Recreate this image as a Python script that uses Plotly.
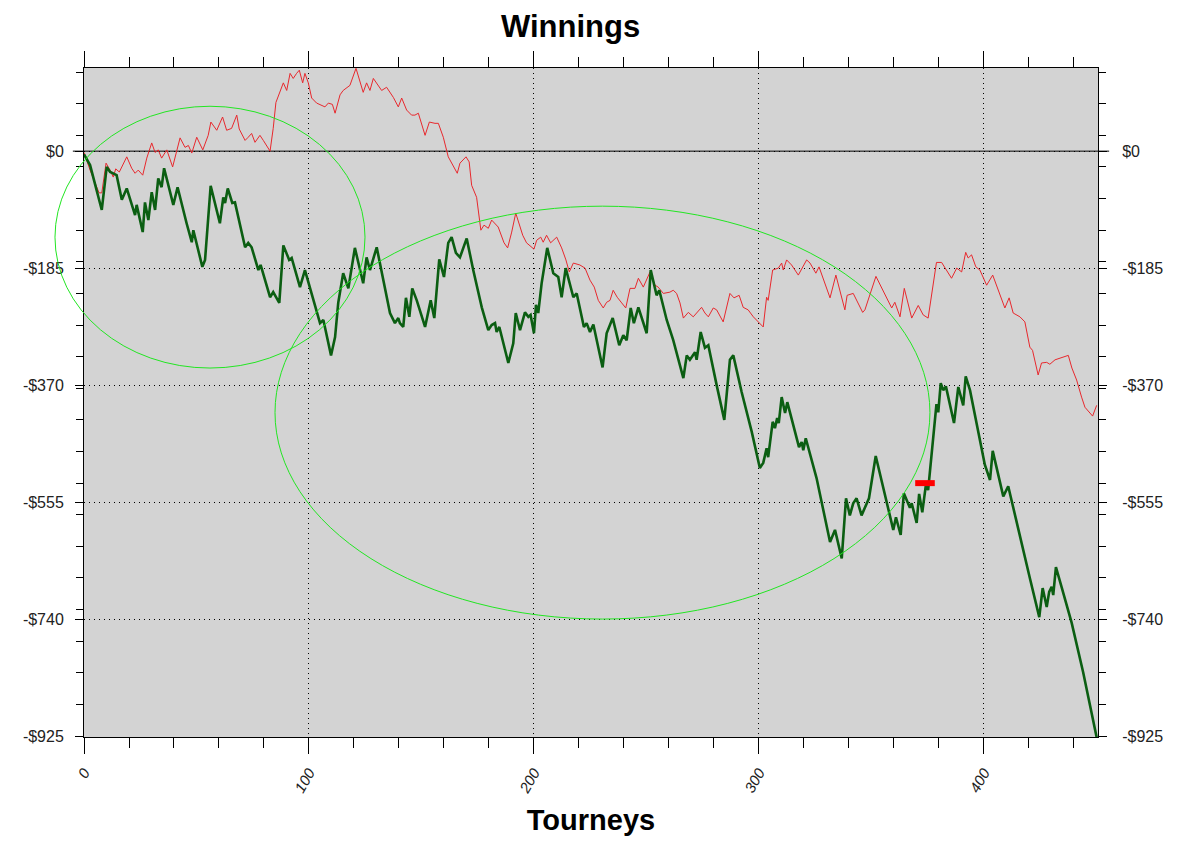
import plotly.graph_objects as go

# winnings per tourney
green_x = [0, 2.7, 7.9, 10.1, 11.6, 14.5, 16.8, 19.0, 22.7, 23.4, 26.1, 27.1, 28.6, 30.1, 31.6, 33.0, 34.5, 35.6,
           39.7, 41.6, 45.6, 47.9, 48.6, 52.6, 53.8, 56.3, 60.4, 61.9, 62.7, 63.9, 65.9, 67.1, 71.6, 73.0, 74.5,
           77.5, 78.5, 82.7, 84.1, 86.8, 88.6, 91.2, 92.3, 96.0, 98.2, 101.2, 104.9, 106.4, 109.8, 111.6, 113.0,
           115.2, 117.5, 120.4, 124.1, 125.6, 127.1, 130.1, 136.0, 138.2, 139.7, 140.4, 141.9, 143.1, 144.6,
           145.9, 147.9, 151.6, 154.1, 155.7, 157.9, 160.0, 161.9, 163.4, 165.3, 167.1, 168.3, 170.1, 173.0,
           176.8, 179.7, 181.2, 182.7, 183.4, 184.6, 188.6, 190.8, 191.9, 193.8, 196.0, 197.5, 198.5, 200.0,
           200.9, 201.9, 203.4, 205.9, 208.6, 210.8, 212.3, 214.1, 216.4, 217.5, 219.0, 222.2, 223.4, 224.9,
           226.4, 230.5, 232.3, 235.0, 237.9, 239.7, 241.2, 243.0, 244.4, 246.4, 250.1, 251.9, 254.5, 255.7,
           259.0, 261.9, 266.4, 267.9, 269.3, 271.6, 272.3, 274.1, 276.0, 277.5, 281.2, 284.6, 287.1, 288.6,
           292.3, 296.8, 300.4, 301.9, 303.4, 304.1, 306.1, 307.1, 308.1, 308.8, 310.1, 311.6, 312.6, 317.8,
           319.0, 319.7, 320.8, 325.6, 331.6, 333.8, 336.8, 338.7, 340.4, 341.9, 343.4, 345.6, 348.9, 351.9,
           359.7, 360.9, 363.0, 364.4, 367.1, 367.9, 370.1, 371.2, 372.6, 374.2, 375.2, 377.2, 378.9, 379.7,
           380.8, 381.9, 383.1, 386.7, 388.6, 390.8, 391.9, 393.8, 400.4, 402.7, 403.9, 408.6, 410.8, 420.4,
           424.6, 426.1, 427.9, 429.0, 430.1, 430.8, 432.0, 434.5, 439.0, 444.1, 450.1]
green_y = [-5, -22, -93, -25, -33, -38, -77, -59, -101, -85, -128, -81, -109, -65, -93, -43, -57, -27,
           -85, -57, -114, -144, -125, -183, -172, -55, -114, -73, -82, -59, -82, -81, -152, -145, -152,
           -188, -180, -231, -223, -240, -149, -172, -169, -215, -188, -225, -272, -267, -323, -294, -240,
           -193, -217, -153, -209, -168, -188, -152, -256, -272, -264, -272, -278, -232, -262,
           -217, -236, -278, -236, -264, -171, -199, -145, -136, -161, -168, -157, -138, -188,
           -247, -283, -275, -272, -286, -278, -335, -304, -256, -283, -255, -262, -259, -288,
           -243, -256, -209, -153, -193, -199, -231, -185, -215, -231, -225, -278, -272, -286,
           -274, -342, -288, -264, -307, -291, -299, -248, -272, -247, -288, -188, -228, -220,
           -267, -299, -359, -323, -330, -318, -330, -286, -311, -307, -370, -425, -330, -323,
           -381, -444, -501, -493, -470, -484, -428, -438, -422, -430, -389, -414, -397, -468,
           -460, -473, -454, -517, -618, -599, -644, -549, -576, -557, -549, -576, -549, -482,
           -599, -579, -607, -541, -564, -557, -588, -542, -571, -528, -536, -457, -400, -413,
           -367, -378, -372, -430, -373, -402, -356, -378, -496, -520, -474, -546, -530, -675,
           -737, -691, -721, -697, -689, -702, -658, -689, -746, -824, -927]

red_x = [0, 2.7, 6.7, 7.9, 9.8, 11.6, 13.0, 14.1, 15.7, 19.0, 21.2, 22.7, 24.1, 26.1, 27.9, 30.1, 31.6, 33.0,
         34.5, 36.8, 39.4, 42.7, 44.9, 46.4, 47.9, 50.1, 52.8, 55.2, 56.4, 59.0, 61.6, 63.4, 65.6, 67.9, 69.0,
         71.6, 73.0, 74.5, 76.0, 78.2, 79.7, 82.7, 84.1, 85.3, 88.6, 90.1, 91.6, 93.0, 94.5, 95.7, 97.2, 98.2,
         99.7, 101.2, 103.4, 107.1, 108.6, 110.4, 111.6, 113.8, 115.2, 116.8, 118.2, 120.9, 124.1, 125.6,
         127.1, 128.6, 132.3, 134.5, 137.5, 139.7, 141.2, 143.4, 145.6, 147.1, 148.6, 151.6, 153.5, 156.0,
         157.5, 159.7, 161.9, 165.9, 167.1, 169.8, 171.2, 172.3, 174.5, 176.4, 177.8, 179.7, 181.2, 184.1,
         186.7, 188.3, 190.1, 191.9, 195.0, 196.7, 199.0, 200.0, 201.2, 203.0, 204.1, 205.6, 207.4, 210.1,
         212.3, 214.2, 215.7, 217.5, 220.4, 222.7, 224.9, 226.8, 228.6, 230.8, 232.3, 233.8, 235.2, 237.0,
         239.0, 240.8, 242.7, 244.9, 246.4, 248.6, 251.6, 253.8, 255.2, 257.5, 260.4, 261.9, 263.4, 264.9,
         266.4, 268.6, 270.8, 274.5, 276.0, 277.5, 279.7, 281.2, 284.1, 287.1, 288.9, 291.2, 293.0, 295.2,
         297.5, 301.9, 303.4, 304.1, 306.1, 308.6, 310.1, 310.8, 312.3, 314.5, 317.5, 321.2, 322.7, 325.3,
         326.7, 331.6, 334.2, 338.2, 339.2, 341.9, 346.1, 347.1, 352.0, 355.2, 359.0, 360.4, 362.7, 364.6,
         367.9, 370.8, 373.0, 375.2, 377.2, 378.9, 381.2, 383.4, 385.6, 387.9, 390.1, 391.9, 393.0, 394.5,
         396.4, 398.2, 401.2, 403.9, 407.1, 409.3, 411.2, 413.0, 416.0, 418.2, 420.4, 421.6, 424.1, 425.6,
         427.9, 429.3, 431.6, 434.5, 437.5, 439.1, 441.2, 443.4, 444.9, 448.3, 450.1]
red_y = [-2, -30, -66, -66, -19, -30, -41, -28, -33, -9, -27, -35, -30, -38, -11, 13, -2, 2,
         -11, 2, -25, 21, 6, 9, -3, 22, 2, 25, 46, 33, 54, 33, 36, 57, 35,
         17, 22, 28, 14, 25, 17, 0, 36, 77, 108, 96, 123, 115, 123, 128, 108, 123,
         108, 84, 76, 70, 76, 74, 60, 89, 96, 101, 104, 131, 93, 108,
         96, 115, 96, 101, 85, 70, 84, 65, 57, 57, 60, 25, 46, 44,
         44, 22, -9, -35, -19, -9, -17, -54, -73, -125, -117, -122, -109, -120,
         -145, -153, -128, -98, -133, -145, -152, -155, -141, -136, -144, -133, -145, -136,
         -153, -172, -191, -177, -180, -185, -204, -215, -236, -248, -239, -236, -220, -231,
         -240, -248, -217, -217, -201, -215, -191, -212, -215, -225, -223, -220, -225, -240,
         -264, -255, -262, -247, -256, -262, -248, -251, -270, -225, -232, -228, -247, -251,
         -262, -278, -231, -236, -188, -185, -177, -188, -172, -180, -196, -172, -177, -193,
         -183, -232, -196, -251, -228, -225, -255, -251, -198, -220, -248, -239, -262, -217,
         -264, -244, -259, -264, -215, -176, -176, -188, -201, -185, -191, -160, -169, -164,
         -183, -188, -212, -196, -225, -248, -232, -256, -262, -270, -310, -315, -354, -335,
         -334, -337, -330, -327, -323, -343, -362, -389, -405, -419, -402]

# red marker sitting on the green line
marker_x = [373.8]
marker_y = [-525]

# circled areas: (x0, x1, y0, y1) in chart units
circle_one = (-12.9, 124.9, -343, 71)
circle_two = (84.9, 376.0, -740, -87)

y_ticks = [0, -185, -370, -555, -740, -925]
y_labels = ["$0", "-$185", "-$370", "-$555", "-$740", "-$925"]
y_minor = [125, 75, 25, -25, -75, -125, -175, -225, -275, -325, -375, -425, -475, -525, -575,
           -625, -675, -725, -775, -825, -875, -925]
x_ticks = [0, 100, 200, 300, 400]

x_range = [0, 450.7]
y_range = [-926.5, 131.5]

fig = go.Figure()
fig.add_trace(go.Scatter(x=red_x, y=red_y, mode="lines",
                         line=dict(color="#e8282d", width=1), hoverinfo="skip"))
fig.add_trace(go.Scatter(x=green_x, y=green_y, mode="lines",
                         line=dict(color="#0b5e12", width=2.6), hoverinfo="skip"))
fig.add_trace(go.Scatter(x=marker_x, y=marker_y, mode="markers",
                         marker=dict(symbol="line-ew", size=14, line=dict(color="#ff0000", width=6)),
                         hoverinfo="skip"))
# invisible trace so the right-hand axis shows its labels
fig.add_trace(go.Scatter(x=x_range, y=y_range, yaxis="y2", mode="lines",
                         line=dict(width=0), opacity=0, hoverinfo="skip"))

# first circle sticks out past the left edge, so place it in paper units
span = x_range[1] - x_range[0]
fig.add_shape(type="circle", xref="paper", yref="y",
              x0=(circle_one[0] - x_range[0]) / span, x1=(circle_one[1] - x_range[0]) / span,
              y0=circle_one[2], y1=circle_one[3], line=dict(color="#22e622", width=1))
fig.add_shape(type="circle", xref="x", yref="y",
              x0=circle_two[0], x1=circle_two[1], y0=circle_two[2], y1=circle_two[3],
              line=dict(color="#22e622", width=1))
# zero line runs a little past the frame on both sides
fig.add_shape(type="line", xref="paper", yref="y", x0=-0.011, x1=1.011, y0=0, y1=0,
              line=dict(color="black", width=1), layer="below")

tick_font = dict(family="Liberation Sans, Arial, sans-serif", size=16, color="#222222")
grid_dots = "1px,4px"

# page body adds 8px around the figure, so the figure is 16px smaller than the window
fig.update_layout(
    width=1172, height=834,
    margin=dict(l=76, r=82, t=60, b=105),
    paper_bgcolor="white",
    plot_bgcolor="#d3d3d3",
    showlegend=False,
    title=dict(text="<b>Winnings</b>", x=0.48, xanchor="center", y=0.978, yanchor="middle",
               font=dict(family="Liberation Sans, Arial, sans-serif", size=31, color="black")),
    xaxis=dict(
        range=x_range, tickvals=x_ticks, ticktext=[str(v) for v in x_ticks],
        tickangle=-60, tickfont=dict(family="Liberation Sans, Arial, sans-serif", size=15,
                                     color="#222222", style="italic"),
        ticks="outside", ticklen=16, tickcolor="black", ticklabelstandoff=4,
        minor=dict(dtick=20, tick0=0, ticks="outside", ticklen=10, tickcolor="black", showgrid=False),
        showgrid=True, gridcolor="black", griddash=grid_dots, gridwidth=1,
        showline=True, linecolor="black", linewidth=1, mirror="ticks",
        zeroline=False,
        title=dict(text="<b>Tourneys</b>", standoff=14,
                   font=dict(family="Liberation Sans, Arial, sans-serif", size=29, color="black")),
    ),
    yaxis=dict(
        range=y_range, tickvals=y_ticks, ticktext=y_labels, tickfont=tick_font,
        ticks="outside", ticklen=8, tickcolor="black", ticklabelstandoff=8,
        minor=dict(tickvals=y_minor, ticks="outside", ticklen=7, tickcolor="black", showgrid=False),
        showgrid=True, gridcolor="black", griddash=grid_dots, gridwidth=1,
        showline=True, linecolor="black", linewidth=1, mirror="ticks",
        zeroline=False,
    ),
    yaxis2=dict(
        range=y_range, overlaying="y", side="right", tickvals=y_ticks, ticktext=y_labels,
        tickfont=tick_font, ticks="outside", ticklen=8, tickcolor="black", ticklabelstandoff=12,
        minor=dict(tickvals=y_minor, ticks="outside", ticklen=7, tickcolor="black", showgrid=False),
        showgrid=False, zeroline=False, showline=False,
    ),
)

fig.write_html("out.html")
